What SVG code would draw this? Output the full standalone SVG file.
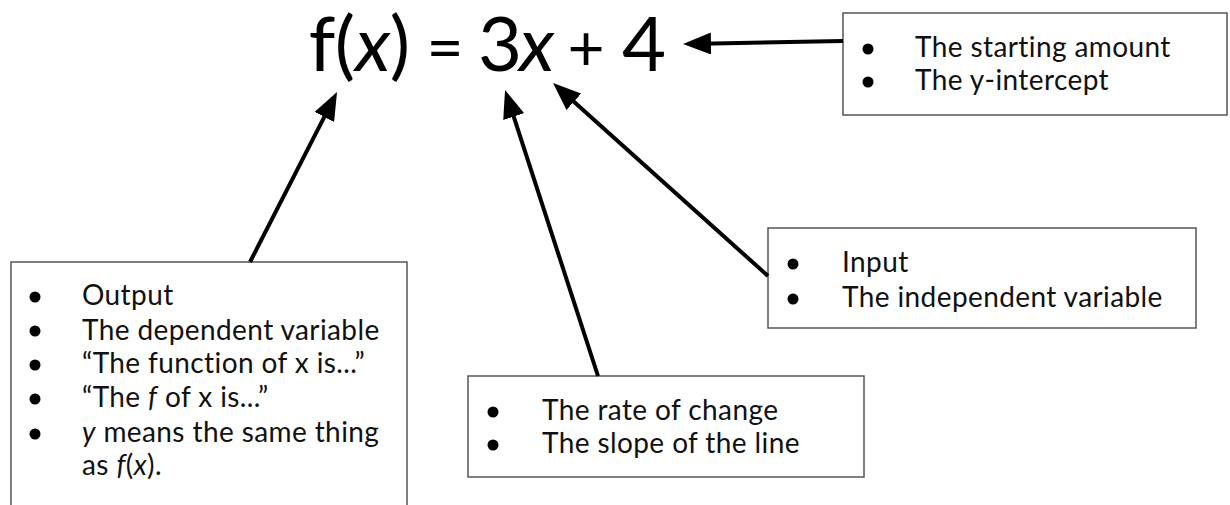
<svg xmlns="http://www.w3.org/2000/svg" width="1230" height="505" viewBox="0 0 1230 505">
<style>
.box{fill:#fff;stroke:#555;stroke-width:1.5}
.t{font-family:Lato,"Open Sans","Liberation Sans",sans-serif;font-size:28px;letter-spacing:0.4px;fill:#111}
.eq{font-family:Lato,"Open Sans","Liberation Sans",sans-serif;font-size:76px;fill:#000;text-anchor:middle}
.op{font-size:64px}
.b{fill:#000}
.c{stroke:#000;stroke-width:4;fill:none;marker-end:url(#ah)}
</style>
<defs>
<marker id="ah" markerUnits="userSpaceOnUse" markerWidth="28" markerHeight="22" viewBox="0 0 28 22" refX="22" refY="11" orient="auto">
<path d="M0,0 L28,11 L0,22 z" fill="#000"/>
</marker>
</defs>
<g id="equation">
<text class="eq" y="71"><tspan x="322">f</tspan><tspan x="345">(</tspan><tspan x="373" font-style="italic">x</tspan><tspan x="400">)</tspan><tspan class="op" x="445" y="70">=</tspan><tspan x="500" y="71">3</tspan><tspan x="537" font-style="italic">x</tspan><tspan class="op" x="586" y="71">+</tspan><tspan x="644" y="71">4</tspan></text>
</g>
<g id="intercept">
<rect class="box" x="843" y="13" width="384" height="102"/>
<circle class="b" cx="868" cy="49" r="5.5"/><circle class="b" cx="868" cy="82" r="5.5"/>
<text class="t" x="915" y="57">The starting amount</text>
<text class="t" x="915" y="90">The y-intercept</text>
</g>
<g id="output">
<path class="box" d="M11,505 V262 H407 V505"/>
<circle class="b" cx="35" cy="297" r="5.5"/><circle class="b" cx="35" cy="331" r="5.5"/><circle class="b" cx="35" cy="365" r="5.5"/><circle class="b" cx="35" cy="399" r="5.5"/><circle class="b" cx="35" cy="434" r="5.5"/>
<text class="t" x="82" y="305">Output</text>
<text class="t" x="82" y="340">The dependent variable</text>
<text class="t" x="82" y="373">“The function of x is...”</text>
<text class="t" x="82" y="407">“The <tspan font-style="italic">f</tspan>  of x is...”</text>
<text class="t" x="82" y="442"><tspan font-style="italic">y</tspan> means the same thing</text>
<text class="t" x="82" y="475">as <tspan font-style="italic">f</tspan>(<tspan font-style="italic">x</tspan>).</text>
</g>
<g id="rate">
<rect class="box" x="468" y="376" width="396" height="101"/>
<circle class="b" cx="493" cy="412" r="5.5"/><circle class="b" cx="493" cy="445" r="5.5"/>
<text class="t" x="542" y="420">The rate of change</text>
<text class="t" x="542" y="453">The slope of the line</text>
</g>
<g id="input">
<rect class="box" x="768" y="228" width="428" height="100"/>
<circle class="b" cx="793" cy="264" r="5.5"/><circle class="b" cx="793" cy="299" r="5.5"/>
<text class="t" x="842" y="272">Input</text>
<text class="t" x="842" y="307">The independent variable</text>
</g>
<g id="connectors">
<line class="c" x1="250" y1="262" x2="334.3" y2="97.3"/>
<line class="c" x1="598" y1="376" x2="506.9" y2="95.7"/>
<line class="c" x1="768" y1="276" x2="557.5" y2="87"/>
<line class="c" x1="843" y1="41" x2="689" y2="43.9"/>
</g>
</svg>
